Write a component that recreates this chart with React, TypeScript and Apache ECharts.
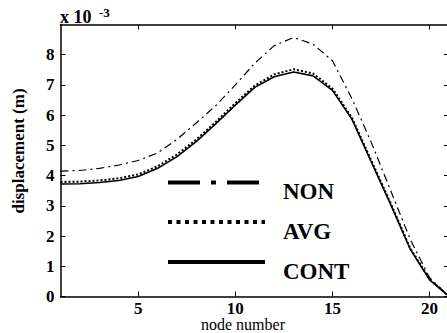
import React, { useEffect, useRef } from "react";
import * as echarts from "echarts";

const nodes = [1, 2, 3, 4, 5, 6, 7, 8, 9, 10, 11, 12, 13, 14, 15, 16, 17, 18, 19, 20, 21];
const nonValues = [4.15, 4.17, 4.24, 4.35, 4.5, 4.75, 5.2, 5.75, 6.32, 7.0, 7.72, 8.3, 8.57, 8.35, 7.8, 6.55, 5.1, 3.5, 1.9, 0.62, 0.0];
const avgValues = [3.79, 3.8, 3.84, 3.91, 4.04, 4.31, 4.7, 5.2, 5.78, 6.4, 6.98, 7.35, 7.52, 7.38, 6.88, 5.92, 4.5, 3.08, 1.6, 0.58, 0.0];
const contValues = [3.72, 3.73, 3.77, 3.84, 3.97, 4.24, 4.63, 5.13, 5.72, 6.33, 6.92, 7.27, 7.43, 7.3, 6.82, 5.87, 4.45, 3.04, 1.57, 0.55, 0.0];
const seriesNames = ["NON", "AVG", "CONT"];
const xTicks = [5, 10, 15, 20];
const yTicks = [0, 1, 2, 3, 4, 5, 6, 7, 8];

const FONT = "Liberation Serif, Times New Roman, serif";

const nonStyle = { width: 1.2, dash: [8, 4, 2, 4], legendDash: [32, 11, 5, 11] };
const avgStyle = { width: 2, dash: [2, 2], legendDash: [4, 4.5] };

export default function App() {
  const ref = useRef<HTMLDivElement>(null);
  useEffect(() => {
    if (!ref.current) return;
    const chart = echarts.init(ref.current, null, { renderer: "svg" });
    const pairs = (vals: number[]) => nodes.map((n, i) => [n, vals[i]]);
    const axisLine = { show: true, onZero: false, lineStyle: { color: "#000", width: 1.5 } };
    const labelStyle = { color: "#000", fontFamily: FONT, fontWeight: "bold" as const, fontSize: 17 };
    const legendX1 = 168;
    const legendX2 = 265;
    const legendYs = [182.5, 222, 262];
    const legendDashes: (number[] | null)[] = [nonStyle.legendDash, avgStyle.legendDash, null];
    const legendGraphics: any[] = [];
    seriesNames.forEach((name, i) => {
      legendGraphics.push({
        type: "line",
        shape: { x1: legendX1, y1: legendYs[i], x2: legendX2, y2: legendYs[i] },
        style: { stroke: "#000", lineWidth: 4, lineDash: legendDashes[i] || undefined },
        z: 10,
      });
      legendGraphics.push({
        type: "text",
        x: 283,
        y: legendYs[i] + 9,
        style: { text: name, fill: "#000", font: `bold 23px ${FONT}`, align: "left", verticalAlign: "middle" },
        z: 10,
      });
    });
    chart.setOption({
      animation: false,
      backgroundColor: "#fff",
      grid: { left: 60.5, top: 24.5, right: 2, bottom: 36.5 },
      xAxis: [
        {
          type: "value", min: 1, max: 21, position: "bottom",
          axisLine,
          axisTick: { show: true, inside: true, length: 5, customValues: xTicks, lineStyle: { color: "#000" } },
          axisLabel: { ...labelStyle, customValues: xTicks, margin: 3 },
          splitLine: { show: false },
        },
        {
          type: "value", min: 1, max: 21, position: "top",
          axisLine,
          axisTick: { show: true, inside: true, length: 5, customValues: xTicks, lineStyle: { color: "#000" } },
          axisLabel: { show: false },
          splitLine: { show: false },
        },
      ],
      yAxis: [
        {
          type: "value", min: 0, max: 9, position: "left",
          axisLine,
          axisTick: { show: true, inside: true, length: 5, customValues: yTicks, lineStyle: { color: "#000" } },
          axisLabel: { ...labelStyle, customValues: yTicks, margin: 6 },
          splitLine: { show: false },
        },
        {
          type: "value", min: 0, max: 9, position: "right",
          axisLine,
          axisTick: { show: true, inside: true, length: 5, customValues: yTicks, lineStyle: { color: "#000" } },
          axisLabel: { show: false },
          splitLine: { show: false },
        },
      ],
      legend: { show: false },
      series: [
        {
          name: seriesNames[0], type: "line", data: pairs(nonValues), symbol: "none", silent: true,
          itemStyle: { color: "#000" },
          lineStyle: { color: "#000", width: nonStyle.width, type: nonStyle.dash },
        },
        {
          name: seriesNames[1], type: "line", data: pairs(avgValues), symbol: "none", silent: true,
          itemStyle: { color: "#000" },
          lineStyle: { color: "#000", width: avgStyle.width, type: avgStyle.dash },
        },
        {
          name: seriesNames[2], type: "line", data: pairs(contValues), symbol: "none", silent: true,
          itemStyle: { color: "#000" },
          lineStyle: { color: "#000", width: 1.6 },
        },
      ],
      graphic: [
        {
          type: "text", x: 18, y: 151, rotation: Math.PI / 2,
          style: { text: "displacement (m)", fill: "#000", font: `bold 17px ${FONT}`, align: "center", verticalAlign: "middle" },
        },
        {
          type: "text", x: 243, y: 324.5,
          style: { text: "node number", fill: "#000", font: `16px ${FONT}`, align: "center", verticalAlign: "middle" },
        },
        {
          type: "text", x: 60, y: 26,
          style: { text: "x 10", fill: "#000", font: `bold 18px ${FONT}`, align: "left", verticalAlign: "bottom" },
        },
        {
          type: "text", x: 99, y: 19,
          style: { text: "-3", fill: "#000", font: `bold 13px ${FONT}`, align: "left", verticalAlign: "bottom" },
        },
        ...legendGraphics,
      ],
    });
    return () => chart.dispose();
  }, []);
  return (
    <div style={{ position: "fixed", left: 0, top: 0, width: 447, height: 333, overflow: "hidden", background: "#fff" }}>
      <div ref={ref} style={{ width: 451, height: 333 }} />
    </div>
  );
}
